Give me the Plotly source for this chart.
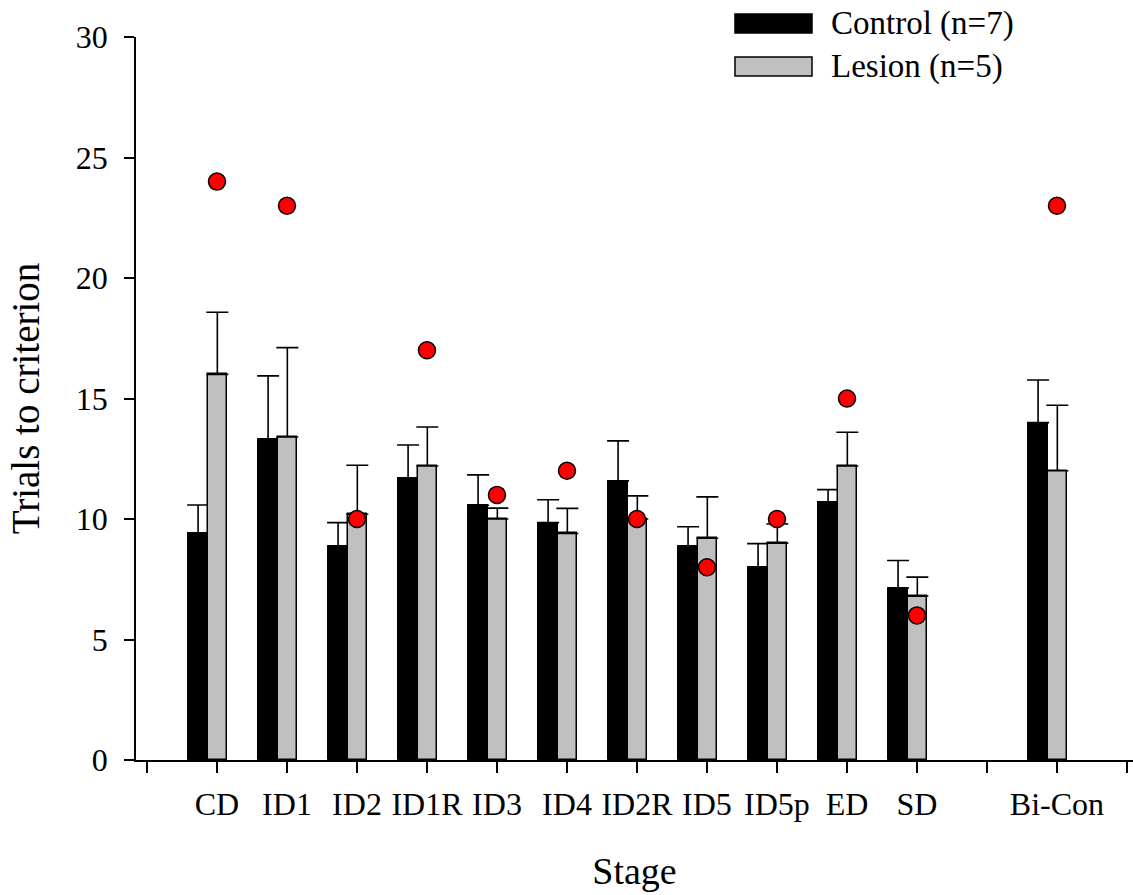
import plotly.graph_objects as go

stages = ["CD", "ID1", "ID2", "ID1R", "ID3", "ID4", "ID2R", "ID5", "ID5p", "ED", "SD", "Bi-Con"]
positions = [1, 2, 3, 4, 5, 6, 7, 8, 9, 10, 11, 13]

control_mean = [9.43, 13.30, 8.86, 11.71, 10.57, 9.85, 11.58, 8.86, 8.00, 10.71, 7.14, 14.00]
control_sem = [1.15, 2.64, 0.99, 1.36, 1.26, 0.95, 1.66, 0.82, 0.98, 0.51, 1.14, 1.77]
lesion_mean = [16.0, 13.4, 10.2, 12.2, 10.0, 9.4, 10.0, 9.2, 9.0, 12.2, 6.8, 12.0]
lesion_sem = [2.58, 3.71, 2.03, 1.62, 0.45, 1.04, 0.96, 1.72, 0.79, 1.40, 0.79, 2.72]
individual = [24, 23, 10, 17, 11, 12, 10, 8, 10, 15, 6, 23]

tick_vals = list(range(0, 15))
tick_text = [""] * 15
for s, p in zip(stages, positions):
    tick_text[p] = s

FONT = "Liberation Serif"

fig = go.Figure()
fig.add_trace(go.Bar(
    x=positions, y=control_mean, offset=-0.41, width=0.28,
    marker=dict(color="black", line=dict(color="black", width=1)),
    error_y=dict(type="data", symmetric=False, array=control_sem,
                 arrayminus=[0] * len(control_sem), color="black", thickness=1.6, width=11),
    name="Control (n=7)", showlegend=False,
))
fig.add_trace(go.Bar(
    x=positions, y=lesion_mean, offset=-0.13, width=0.27,
    marker=dict(color="#c0c0c0", line=dict(color="black", width=1.5)),
    error_y=dict(type="data", symmetric=False, array=lesion_sem,
                 arrayminus=[0] * len(lesion_sem), color="black", thickness=1.6, width=11),
    name="Lesion (n=5)", showlegend=False,
))
fig.add_trace(go.Scatter(
    x=positions, y=individual, mode="markers",
    marker=dict(color="red", size=17, line=dict(color="black", width=1.5)),
    showlegend=False,
))

W, H = 1133, 895
L, R, T, B = 136, 0, 37, 135
pw = W - L - R
ph = H - T - B

def px_x(px):
    return (px - L) / pw

def px_y(py):
    return (H - B - py) / ph

legend_items = [("Control (n=7)", "black", 14, 33), ("Lesion (n=5)", "#c0c0c0", 57, 76)]
for label, col, y0, y1 in legend_items:
    fig.add_shape(type="rect", xref="paper", yref="paper",
                  x0=px_x(735), x1=px_x(812), y0=px_y(y1), y1=px_y(y0),
                  fillcolor=col, line=dict(color="black", width=1.5))
    fig.add_annotation(xref="paper", yref="paper", x=px_x(829), y=px_y((y0 + y1) / 2),
                       text=label, showarrow=False, xanchor="left", yanchor="middle",
                       font=dict(family=FONT, size=33, color="black"))

fig.update_layout(
    width=W, height=H,
    margin=dict(l=L, r=R, t=T, b=B, autoexpand=False),
    plot_bgcolor="white", paper_bgcolor="white",
    bargap=0, barmode="overlay",
    font=dict(family=FONT, color="black"),
    xaxis=dict(
        range=[-0.157, 14.086], tickmode="array", tickvals=tick_vals, ticktext=tick_text,
        showline=True, linecolor="black", linewidth=1.5, mirror=False,
        ticks="outside", ticklen=11, tickwidth=1.5, tickcolor="black",
        showgrid=False, zeroline=False,
        tickfont=dict(family=FONT, size=32, color="black"),
        ticklabelstandoff=4,
        title=dict(text="Stage", font=dict(family=FONT, size=38, color="black"), standoff=36),
    ),
    yaxis=dict(
        range=[0, 30], tickvals=[0, 5, 10, 15, 20, 25, 30],
        showline=True, linecolor="black", linewidth=1.5,
        ticks="outside", ticklen=10, tickwidth=1.5, tickcolor="black",
        showgrid=False, zeroline=False,
        tickfont=dict(family=FONT, size=32, color="black"),
        ticklabelstandoff=10,
        title=dict(text="Trials to criterion", font=dict(family=FONT, size=39, color="black"), standoff=24),
    ),
)

fig.write_html(
    "out.html",
    config={"displayModeBar": False},
    post_script="document.body.style.margin='0';document.body.style.overflow='hidden';",
)
